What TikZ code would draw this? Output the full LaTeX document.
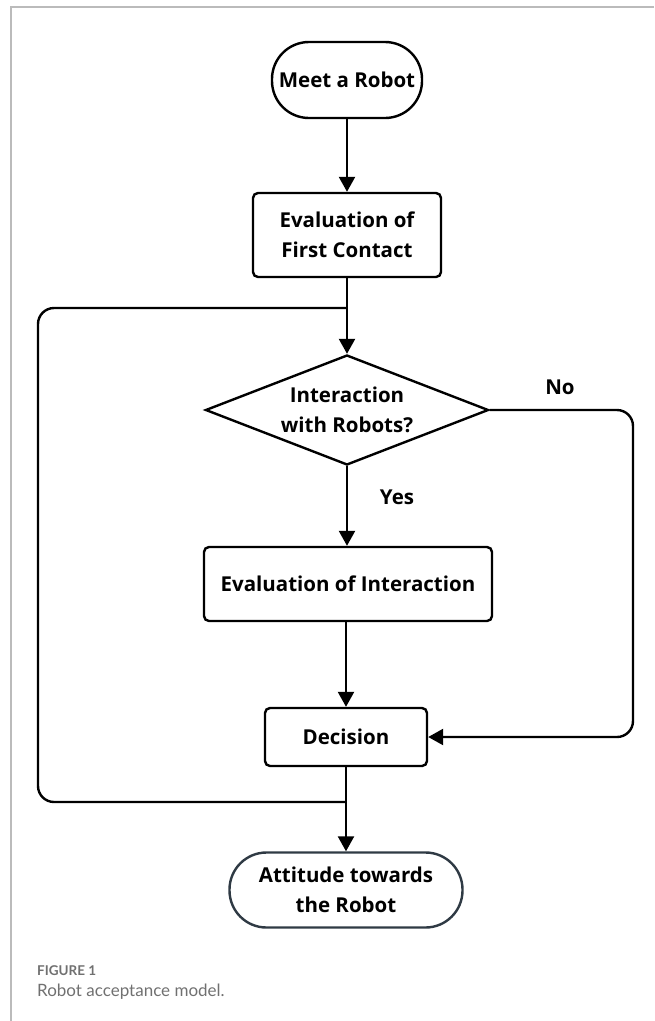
\documentclass[tikz,border=0pt]{standalone}
\usepackage{fontspec}
\setmainfont{Open Sans}
\newfontfamily\capfont{Lato}
\usetikzlibrary{arrows.meta,shapes.geometric}
\definecolor{framegray}{HTML}{BBBBBB}
\definecolor{capgray}{HTML}{707070}
\definecolor{slate}{HTML}{2F3A44}
\begin{document}
\begin{tikzpicture}[x=1pt,y=-1pt,
  every node/.style={font=\fontsize{20.5}{30}\selectfont\bfseries, align=center, inner sep=0pt},
  term/.style={draw, line width=2.4pt, rounded corners=37pt},
  procbox/.style={draw, line width=2.4pt, rounded corners=5pt},
  dec/.style={draw, line width=2.4pt, diamond, aspect=2.57},
  conn/.style={line width=2.4pt},
  arr/.style={conn, -{Triangle[width=16pt,length=15pt]}},
  lbl/.style={font=\fontsize{20.5}{24}\selectfont\bfseries}
]
\useasboundingbox (0,0) rectangle (654,1021);
% frame
\draw[framegray, line width=1.2pt] (654,7) -- (11,7) -- (11,1021);

\node[term, minimum width=150pt, minimum height=76pt] (meet) at (347,80) {Meet a Robot};
\node[procbox, minimum width=188pt, minimum height=84pt] (eval1) at (347,235) {Evaluation of\\First Contact};
\coordinate (j1) at (347,308);
\node[dec, minimum width=283pt, minimum height=110pt] (dia) at (347,410) {Interaction\\with Robots?};
\node[procbox, minimum width=288pt, minimum height=74pt] (eval2) at (348,584) {Evaluation of Interaction};
\node[procbox, minimum width=162pt, minimum height=58pt] (decn) at (346,737) {Decision};
\coordinate (j2) at (346,802);
\node[term, draw=slate, minimum width=233pt, minimum height=75pt] (att) at (346,890) {Attitude towards\\the Robot};

\coordinate (lb) at (38,802);
\coordinate (lt) at (38,308);
\coordinate (rt) at (633,410);
\coordinate (rb) at (633,737);

\draw[arr] (meet) -- (eval1);
\draw[conn] (eval1.south) -- (j1);
\draw[arr] (j1) -- (dia.north);
\draw[arr] (dia.south) -- (eval2.north -| dia.south);
\draw[arr] (eval2.south -| decn.north) -- (decn.north);
\draw[conn] (decn.south) -- (j2);
\draw[arr] (j2) -- (att.north -| j2);
\draw[conn, rounded corners=16pt] (j2) -- (lb) -- (lt) -- (j1);
\draw[arr, rounded corners=16pt] (dia.east) -- (rt) -- (rb) -- (decn.east);

\node[lbl] (no) at (560,387) {No};
\node[lbl] (yes) at (397,497) {Yes};

\node[anchor=base west, font=\capfont\bfseries\fontsize{13.5}{16}\selectfont, text=capgray] (fig) at (37,975) {FIGURE 1};
\node[anchor=base west, font=\capfont\fontsize{17}{20}\selectfont, text=capgray] (cap) at (37,996) {Robot acceptance model.};
\end{tikzpicture}
\end{document}
